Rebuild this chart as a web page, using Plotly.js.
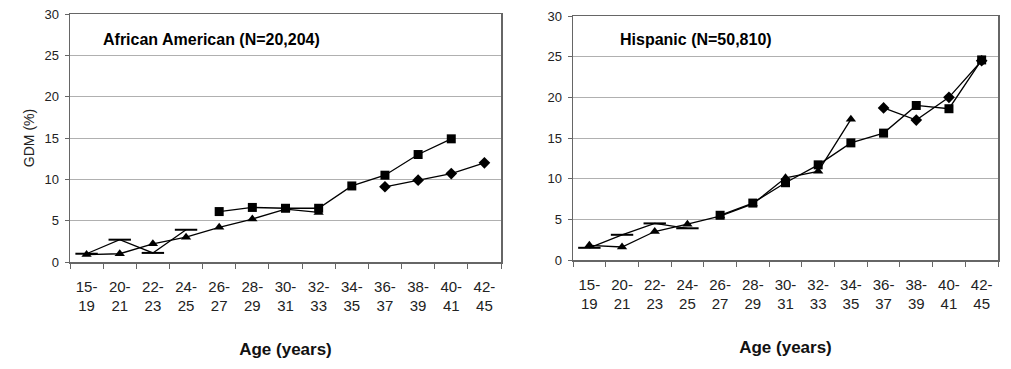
<!DOCTYPE html>
<html><head><meta charset="utf-8">
<script src="https://cdn.plot.ly/plotly-3.0.1.min.js"></script>
<style>html,body{margin:0;padding:0;background:#fff}#chart{width:1011px;height:369px}</style>
</head><body><div id="chart"></div>
<script>
const categories = ["15-<br>19","20-<br>21","22-<br>23","24-<br>25","26-<br>27","28-<br>29","30-<br>31","32-<br>33","34-<br>35","36-<br>37","38-<br>39","40-<br>41","42-<br>45"];
const yTicks = [0,5,10,15,20,25,30];

// African American panel
const aaDash     = [1.0, 2.7, 1.1, 3.9, null, null, null, null, null, null, null, null, null];
const aaTriangle = [0.9, 1.0, 2.2, 3.0, 4.2, 5.2, 6.4, 6.0, null, null, null, null, null];
const aaSquare   = [null, null, null, null, 6.1, 6.6, 6.5, 6.5, 9.2, 10.5, 13.0, 14.9, null];
const aaDiamond  = [null, null, null, null, null, null, null, null, null, 9.1, 9.9, 10.7, 12.0];

// Hispanic panel
const hiDash     = [1.5, 3.1, 4.5, 3.9, null, null, null, null, null, null, null, null, null];
const hiTriangle = [1.8, 1.6, 3.5, 4.4, 5.4, 6.9, 10.1, 10.9, 17.3, null, null, null, null];
const hiSquare   = [null, null, null, null, 5.5, 7.0, 9.5, 11.7, 14.4, 15.6, 19.0, 18.6, 24.6];
const hiDiamond  = [null, null, null, null, null, null, null, null, null, 18.7, 17.2, 20.0, 24.5];

const FONT = "Liberation Sans, Arial, sans-serif";
const lineStyle = {color:'#000', width:1.3};
function tr(y, sym, size, xa, ya, open){
  const m = {symbol:sym, size:size, color:'#000'};
  if(open) m.line = {color:'#000', width:2};
  return {x:categories, y:y, type:'scatter', mode:'lines+markers', line:lineStyle, marker:m,
          xaxis:xa, yaxis:ya, connectgaps:false, showlegend:false, hoverinfo:'skip'};
}
const data = [
  tr(aaDash,'line-ew-open',16,'x','y',true),
  tr(aaTriangle,'triangle-up',9,'x','y'),
  tr(aaSquare,'square',9,'x','y'),
  tr(aaDiamond,'diamond',9,'x','y'),
  tr(hiDash,'line-ew-open',16,'x2','y2',true),
  tr(hiTriangle,'triangle-up',9,'x2','y2'),
  tr(hiSquare,'square',9,'x2','y2'),
  tr(hiDiamond,'diamond',9,'x2','y2')
];
const W=1011,H=369;
function xax(d, anchor){
  return {domain:d, anchor:anchor, type:'category', range:[-0.5,12.5], tickson:'boundaries',
    ticks:'outside', ticklen:5, tickcolor:'#666', showgrid:false, showline:true, linecolor:'#666', linewidth:1.5,
    mirror:true, tickfont:{family:FONT,size:15,color:'#222'}, tickangle:0, fixedrange:true, ticklabelstandoff:10,
    title:{text:'<b>Age (years)</b>', font:{family:FONT,size:17,color:'#111'}, standoff:30}};
}
function yax(d, anchor, title){
  return {domain:d, anchor:anchor, range:[0,30], tickvals:yTicks, ticks:'outside', ticklen:4, tickcolor:'#666',
    showgrid:true, gridcolor:'#b0b0b0', gridwidth:1, showline:true, linecolor:'#666', linewidth:1.5, mirror:true,
    zeroline:false, tickfont:{family:FONT,size:13,color:'#222'}, fixedrange:true, ticklabelstandoff:3,
    title:{text:title, font:{family:FONT,size:14,color:'#222'}, standoff:6}};
}
const layout = {
  width:W, height:H, margin:{l:0,r:0,t:0,b:0}, paper_bgcolor:'#fff', plot_bgcolor:'#fff',
  xaxis: xax([70/W, 501/W], 'y'),
  yaxis: yax([(H-262)/H, (H-14)/H], 'x', 'GDM (%)'),
  xaxis2: xax([573/W, 998/W], 'y2'),
  yaxis2: yax([(H-260)/H, (H-16)/H], 'x2', ''),
  annotations:[
    {text:'<b>African American (N=20,204)</b>', xref:'paper', yref:'paper', x:101/W, y:(H-39)/H, xanchor:'left', yanchor:'middle', showarrow:false, font:{family:FONT,size:16,color:'#000'}},
    {text:'<b>Hispanic (N=50,810)</b>', xref:'paper', yref:'paper', x:618/W, y:(H-39)/H, xanchor:'left', yanchor:'middle', showarrow:false, font:{family:FONT,size:16,color:'#000'}}
  ]
};
Plotly.newPlot('chart', data, layout, {staticPlot:true, displayModeBar:false});
</script></body></html>
